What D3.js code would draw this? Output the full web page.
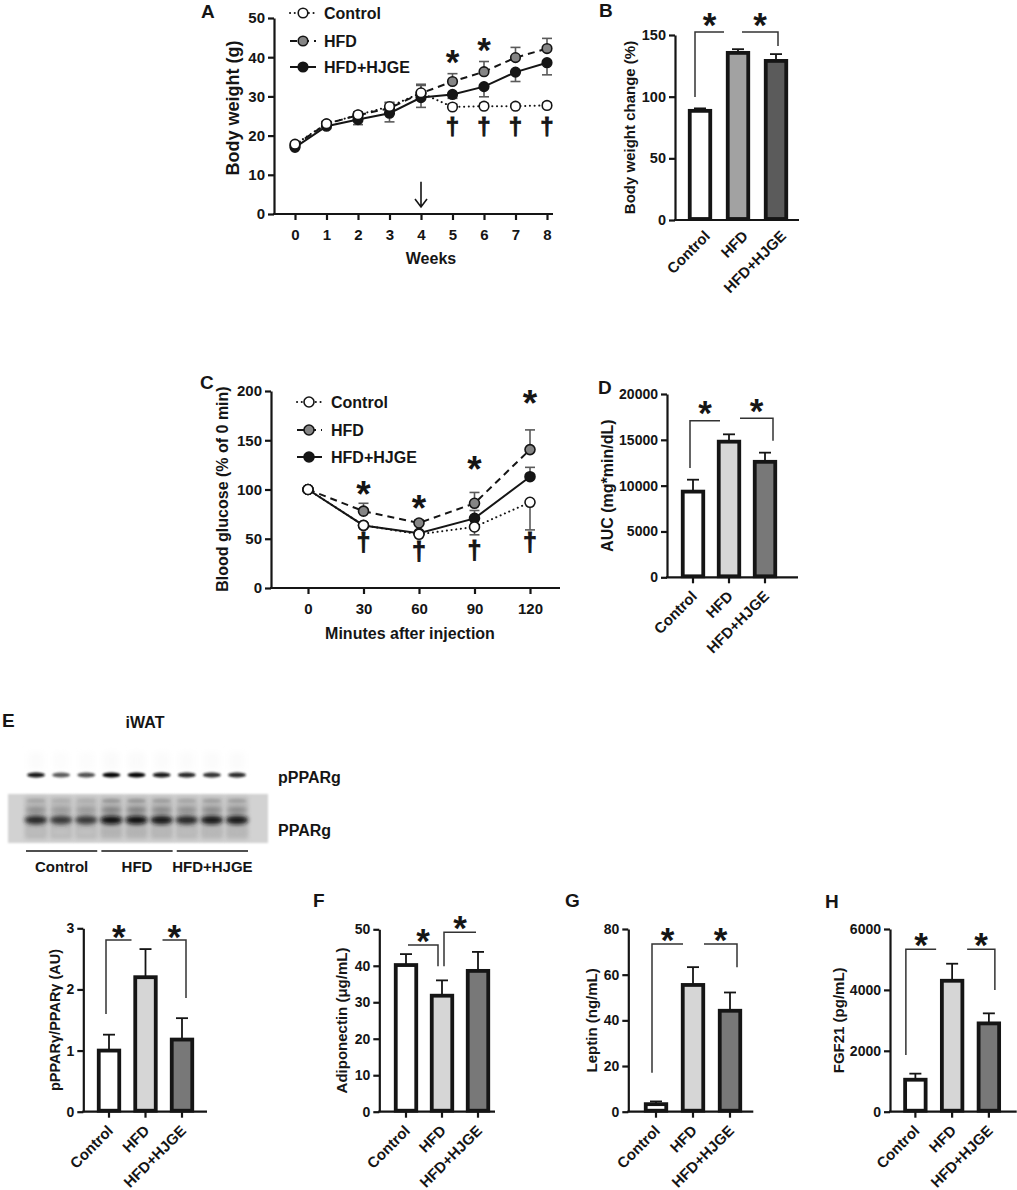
<!DOCTYPE html>
<html><head><meta charset="utf-8">
<script src="https://cdn.jsdelivr.net/npm/d3@7"></script>
<style>body{margin:0;background:#fff}</style>
</head><body><svg id="fig" width="1017" height="1190" xmlns="http://www.w3.org/2000/svg"></svg>
<script>
// ---------------- DATA ----------------
const groups = ["Control", "HFD", "HFD+HJGE"];

// Panel A – body weight (g)
const weeks = [0, 1, 2, 3, 4, 5, 6, 7, 8];
const bwControl    = [17.8, 23.0, 25.3, 27.4, 30.9, 27.3, 27.5, 27.5, 27.7];
const bwControlErr = [0.5, 0.6, 0.7, 1.1, 2.2, 0.7, 0.7, 0.6, 0.7];
const bwHFD        = [17.5, 23.0, 25.2, 27.0, 30.8, 33.8, 36.3, 39.9, 42.2];
const bwHFDErr     = [0.5, 0.6, 0.8, 1.3, 2.0, 2.0, 2.6, 2.6, 2.6];
const bwHJGE       = [17.0, 22.4, 24.1, 25.7, 29.7, 30.5, 32.5, 36.2, 38.6];
const bwHJGEErr    = [0.4, 0.6, 1.3, 2.2, 2.5, 1.0, 2.6, 2.4, 3.1];
const bwTicksY = [0, 10, 20, 30, 40, 50];
const bwStars = [[5, 40.6], [6, 43.7]];
const bwDaggers = [[5, 21.9], [6, 21.9], [7, 21.9], [8, 21.9]];

// Panel C – blood glucose (% of 0 min)
const minutes = [0, 30, 60, 90, 120];
const gluControl    = [100, 63.6, 54.5, 62.0, 87.0];
const gluControlErr = [0, 2, 2, 8, 28];
const gluHFD        = [100, 78.0, 66.0, 86.0, 140.5];
const gluHFDErr     = [0, 8, 3, 11, 20];
const gluHJGE       = [100, 63.5, 55.5, 70.7, 113.0];
const gluHJGEErr    = [0, 2, 2, 8, 9.5];
const gluTicksY = [0, 50, 100, 150, 200];
const gluStars = [[30, 103], [60, 89], [90, 129], [120, 196]];
const gluDaggers = [[30, 45.5], [60, 36], [90, 37], [120, 45]];

// Bar panels
const bwChange = [88.5, 135.5, 129.0];     const bwChangeErr = [2.0, 3.0, 5.5];
const auc = [9350, 14800, 12600];          const aucErr = [1300, 800, 1000];
const pparRatio = [1.0, 2.2, 1.18];        const pparRatioErr = [0.26, 0.46, 0.35];
const adiponectin = [40.2, 31.8, 38.6];    const adiponectinErr = [3.0, 4.2, 5.2];
const leptin = [3.3, 55.5, 44.2];          const leptinErr = [1.2, 7.8, 8.0];
const fgf21 = [1050, 4300, 2900];          const fgf21Err = [200, 560, 330];

// Western blot band intensities (9 lanes)
const pBand = [0.92, 0.6, 0.66, 1.0, 0.98, 0.92, 0.85, 0.8, 0.82];
const tBand = [0.88, 0.82, 0.82, 0.97, 0.97, 0.93, 0.88, 0.92, 0.92];

// ---------------- DRAWING ----------------
const svg = d3.select("#fig");
const INK = "#151515";
const FONT = '"Liberation Sans", Arial, Helvetica, sans-serif';

function txt(g, x, y, s, size, opts = {}) {
  const t = g.append("text").attr("x", x).attr("y", y).text(s)
    .attr("font-size", size).attr("font-weight", "bold")
    .attr("font-family", FONT).attr("fill", opts.fill || INK);
  if (opts.anchor) t.attr("text-anchor", opts.anchor);
  if (opts.rotate != null) t.attr("transform", `rotate(${opts.rotate},${x},${y})`);
  return t;
}
function yTitle(g, cx, cy, s, fs) {
  return txt(g, cx + 0.36 * fs, cy, s, fs, { anchor: "middle", rotate: -90 });
}
function styleAxis(a, fs) {
  a.selectAll("path,line").attr("stroke", INK).attr("stroke-width", 2.2);
  a.selectAll("text").attr("font-size", fs).attr("font-weight", "bold")
    .attr("font-family", FONT).attr("fill", INK);
}
function star(g, x, cy, fs) { txt(g, x, cy + 0.56 * fs, "*", fs, { anchor: "middle" }); }
function dagger(g, x, cy, fs) {
  txt(g, x, cy + 0.3 * fs, "\u2020", fs, { anchor: "middle" }).attr("stroke", INK).attr("stroke-width", 0.9);
}

function lineChart(p) {
  const g = svg.append("g");
  const x = d3.scaleLinear().domain(p.xDomain).range(p.xRange);
  const y = d3.scaleLinear().domain(p.yDomain).range(p.yRange);
  const ya = g.append("g").attr("transform", `translate(${p.axisX},0)`)
    .call(d3.axisLeft(y).tickValues(p.yTicks).tickSize(6).tickSizeOuter(0).tickPadding(3));
  const xa = g.append("g").attr("transform", `translate(0,${p.yRange[0]})`)
    .call(d3.axisBottom(x).tickValues(p.xVals).tickSize(6).tickSizeOuter(0).tickPadding(9));
  xa.select(".domain").remove();
  styleAxis(ya, p.tickFs); styleAxis(xa, p.tickFs);
  g.append("line").attr("x1", p.axisX - 1).attr("x2", p.xEnd)
    .attr("y1", p.yRange[0]).attr("y2", p.yRange[0]).attr("stroke", INK).attr("stroke-width", 2.2);

  const line = d3.line();
  p.series.forEach(s => {
    g.append("path").attr("d", line(p.xVals.map((xv, i) => [x(xv), y(s.vals[i])])))
      .attr("fill", "none").attr("stroke", INK).attr("stroke-width", 2)
      .attr("stroke-dasharray", s.dash).attr("stroke-linecap", s.cap || "butt");
  });
  p.series.forEach(s => {
    s.vals.forEach((v, i) => {
      const e = s.errs[i]; if (!e) return;
      const cx = x(p.xVals[i]), y1 = y(v), y2 = y(v + s.dir * e);
      g.append("line").attr("x1", cx).attr("x2", cx).attr("y1", y1).attr("y2", y2)
        .attr("stroke", "#5a5a5a").attr("stroke-width", 1.6);
      g.append("line").attr("x1", cx - 5).attr("x2", cx + 5).attr("y1", y2).attr("y2", y2)
        .attr("stroke", "#5a5a5a").attr("stroke-width", 1.6);
    });
  });
  p.markerOrder.forEach(k => {
    const s = p.series[k];
    s.vals.forEach((v, i) => {
      g.append("circle").attr("cx", x(p.xVals[i])).attr("cy", y(v)).attr("r", p.r)
        .attr("fill", s.fill).attr("stroke", INK).attr("stroke-width", 1.6);
    });
  });
  // legend
  p.series.forEach((s, i) => {
    const ly = p.legend.ys[i];
    g.append("line").attr("x1", p.legend.x1).attr("x2", p.legend.x2).attr("y1", ly).attr("y2", ly)
      .attr("stroke", INK).attr("stroke-width", 2).attr("stroke-dasharray", s.dash)
      .attr("stroke-linecap", s.cap || "butt");
    g.append("circle").attr("cx", p.legend.mx).attr("cy", ly).attr("r", p.r)
      .attr("fill", s.fill).attr("stroke", INK).attr("stroke-width", 1.6);
    txt(g, p.legend.tx, ly + 6, s.name, 16);
  });
  p.stars.forEach(d => star(g, x(d[0]), y(d[1]), p.starFs));
  p.daggers.forEach(d => dagger(g, x(d[0]), y(d[1]), p.daggerFs));
  txt(g, p.xTitle[0], p.xTitle[1], p.xTitle[2], 16, { anchor: "middle" });
  yTitle(g, p.yTitle[0], p.yTitle[1], p.yTitle[2], p.yTitle[3]);
  txt(g, p.letter[0], p.letter[1], p.letter[2], 19);
  return { g, x, y };
}

function barChart(p) {
  const g = svg.append("g");
  const x = d3.scalePoint().domain(groups).range(p.xRange).padding(0.5);
  const y = d3.scaleLinear().domain(p.yDomain).range([p.y0, p.yTop]);
  const ya = g.append("g").attr("transform", `translate(${p.axisX},0)`)
    .call(d3.axisLeft(y).tickValues(p.ticks).tickSize(6).tickSizeOuter(0).tickPadding(3).tickFormat(d3.format("d")));
  styleAxis(ya, p.tickFs);
  g.append("line").attr("x1", p.axisX - 1).attr("x2", p.xEnd).attr("y1", p.y0).attr("y2", p.y0)
    .attr("stroke", INK).attr("stroke-width", 2.2);
  if (p.xTicks) groups.forEach(c => g.append("line").attr("x1", x(c)).attr("x2", x(c))
    .attr("y1", p.y0).attr("y2", p.y0 + 6).attr("stroke", INK).attr("stroke-width", 2.2));
  const bw = 20.5;
  groups.forEach((c, i) => {
    const cx = x(c), v = p.vals[i], e = p.errs[i];
    g.append("line").attr("x1", cx).attr("x2", cx).attr("y1", y(v)).attr("y2", y(v + e))
      .attr("stroke", INK).attr("stroke-width", 1.8);
    g.append("line").attr("x1", cx - 6).attr("x2", cx + 6).attr("y1", y(v + e)).attr("y2", y(v + e))
      .attr("stroke", INK).attr("stroke-width", 1.8);
    g.append("rect").attr("x", cx - bw / 2).attr("y", y(v)).attr("width", bw)
      .attr("height", p.y0 - y(v) - 1).attr("fill", p.fills[i]).attr("stroke", INK).attr("stroke-width", 3.8);
  });
  p.brackets.forEach(b => {
    const xa = x(groups[b.a]) + b.dxa, xb = x(groups[b.b]) + b.dxb, yt = y(b.top);
    let d = "";
    d += (b.legA != null) ? `M${xa},${y(b.legA)}V${yt}` : `M${xa},${yt}`;
    d += `H${xb}`;
    if (b.legB != null) d += `V${y(b.legB)}`;
    g.append("path").attr("d", d).attr("fill", "none").attr("stroke", "#333").attr("stroke-width", 1.5);
    star(g, (xa + xb) / 2, yt - p.starDy, 35);
  });
  groups.forEach(c => txt(g, x(c) + p.labelDx, p.y0 + p.labelDy, c, 15, { anchor: "end", rotate: -45 }));
  yTitle(g, p.yTitle[0], (p.y0 + p.yTop) / 2 + (p.yTitle[3] || 0), p.yTitle[1], p.yTitle[2]);
  if (p.letter) txt(g, p.letter[0], p.letter[1], p.letter[2], 19);
}

// ---- Panel A
lineChart({
  xDomain: [0, 8], xRange: [295, 547], yDomain: [0, 50], yRange: [214, 18],
  axisX: 274, xEnd: 553, xVals: weeks, yTicks: bwTicksY, tickFs: 15, r: 4.8,
  series: [
    { name: "Control", vals: bwControl, errs: bwControlErr, dir: 1, fill: "#ffffff", dash: "0.1,4.6", cap: "round" },
    { name: "HFD", vals: bwHFD, errs: bwHFDErr, dir: 1, fill: "#858585", dash: "7,5" },
    { name: "HFD+HJGE", vals: bwHJGE, errs: bwHJGEErr, dir: -1, fill: "#161616", dash: null }
  ],
  markerOrder: [1, 2, 0],
  legend: { ys: [13, 41, 67], x1: 290, x2: 316, mx: 303, tx: 324 },
  stars: bwStars, daggers: bwDaggers, starFs: 35, daggerFs: 24,
  xTitle: [431, 264, "Weeks"], yTitle: [233, 108, "Body weight (g)", 18], letter: [201, 18, "A"]
});
// arrow at week 4
(function () {
  const x = d3.scaleLinear().domain([0, 8]).range([295, 547]);
  const y = d3.scaleLinear().domain([0, 50]).range([214, 18]);
  const ax = x(4), yt = y(8.2), yb = y(1.8);
  svg.append("path").attr("d", `M${ax},${yt}V${yb}M${ax - 6},${yb - 8}L${ax},${yb}L${ax + 6},${yb - 8}`)
    .attr("fill", "none").attr("stroke", INK).attr("stroke-width", 1.6);
})();

// ---- Panel C
lineChart({
  xDomain: [0, 120], xRange: [308, 530], yDomain: [0, 200], yRange: [588, 391],
  axisX: 271, xEnd: 560, xVals: minutes, yTicks: gluTicksY, tickFs: 15, r: 5,
  series: [
    { name: "Control", vals: gluControl, errs: gluControlErr, dir: -1, fill: "#ffffff", dash: "0.1,4.6", cap: "round" },
    { name: "HFD", vals: gluHFD, errs: gluHFDErr, dir: 1, fill: "#858585", dash: "7,5" },
    { name: "HFD+HJGE", vals: gluHJGE, errs: gluHJGEErr, dir: 1, fill: "#161616", dash: null }
  ],
  markerOrder: [1, 2, 0],
  legend: { ys: [402, 430, 457], x1: 297, x2: 322, mx: 309, tx: 331 },
  stars: gluStars, daggers: gluDaggers, starFs: 37, daggerFs: 25,
  xTitle: [410, 639, "Minutes after injection"], yTitle: [222, 489, "Blood glucose (% of 0 min)", 16], letter: [200, 389, "C"]
});

// ---- Bar panels
const fillsB = ["#ffffff", "#a2a2a2", "#5b5b5b"];
const fillsL = ["#ffffff", "#d6d6d6", "#787878"];

barChart({ vals: bwChange, errs: bwChangeErr, xRange: [681, 795], y0: 220, yTop: 35, yDomain: [0, 150],
  ticks: [0, 50, 100, 150], axisX: 675, xEnd: 799, fills: fillsB, xTicks: false, labelDx: 11, labelDy: 17, tickFs: 14.5,
  yTitle: [630, "Body weight change (%)", 15], letter: [599, 17, "B"], starDy: 15,
  brackets: [{ a: 0, dxa: -5, b: 1, dxb: -14, top: 152.4, legA: 99.7 },
             { a: 1, dxa: 4, b: 2, dxb: 2, top: 152.4, legB: 141 }] });

barChart({ vals: auc, errs: aucErr, xRange: [675, 783], y0: 577.3, yTop: 394, yDomain: [0, 20000],
  ticks: [0, 5000, 10000, 15000, 20000], axisX: 667, xEnd: 798, fills: fillsL, xTicks: true, labelDx: 5, labelDy: 20, tickFs: 14,
  yTitle: [607, "AUC (mg*min/dL)", 16], letter: [598, 394, "D"], starDy: 15,
  brackets: [{ a: 0, dxa: -3, b: 1, dxb: -9, top: 17083, legA: 11923 },
             { a: 1, dxa: 11, b: 2, dxb: 8, top: 17345, legB: 14900 }] });

barChart({ vals: pparRatio, errs: pparRatioErr, xRange: [90.75, 200.25], y0: 1111.7, yTop: 928.3, yDomain: [0, 3],
  ticks: [0, 1, 2, 3], axisX: 83.3, xEnd: 207, fills: fillsL, xTicks: true, labelDx: 5, labelDy: 20, tickFs: 14,
  yTitle: [55, "pPPAR\u03B3/PPAR\u03B3 (AU)", 14.5], letter: null, starDy: 11,
  brackets: [{ a: 0, dxa: -3, b: 1, dxb: -14, top: 2.81, legA: 1.6 },
             { a: 1, dxa: 17, b: 2, dxb: 4, top: 2.81, legB: 1.86 }] });

barChart({ vals: adiponectin, errs: adiponectinErr, xRange: [388, 496], y0: 1111.7, yTop: 929.3, yDomain: [0, 50],
  ticks: [0, 10, 20, 30, 40, 50], axisX: 379.3, xEnd: 495, fills: fillsL, xTicks: true, labelDx: 5, labelDy: 20, tickFs: 14,
  yTitle: [342, "Adiponectin (\u03BCg/mL)", 15], letter: [313, 907, "F"], starDy: 12,
  brackets: [{ a: 0, dxa: 2, b: 1, dxb: -4, top: 45.7, legB: 39.9 },
             { a: 1, dxa: 2, b: 2, dxb: -2, top: 49.2, legA: 39.9 }] });

barChart({ vals: leptin, errs: leptinErr, xRange: [637.5, 748.5], y0: 1111.7, yTop: 929, yDomain: [0, 80],
  ticks: [0, 20, 40, 60, 80], axisX: 628.3, xEnd: 753.3, fills: fillsL, xTicks: true, labelDx: 5, labelDy: 20, tickFs: 14,
  yTitle: [592, "Leptin (ng/mL)", 15], letter: [565, 907, "G"], starDy: 12,
  brackets: [{ a: 0, dxa: -4, b: 1, dxb: -10, top: 73.4, legA: 17.1 },
             { a: 1, dxa: 11, b: 2, dxb: 7, top: 73.4, legB: 63.2 }] });

barChart({ vals: fgf21, errs: fgf21Err, xRange: [897, 1007.25], y0: 1111.7, yTop: 929, yDomain: [0, 6000],
  ticks: [0, 2000, 4000, 6000], axisX: 890, xEnd: 1016.7, fills: fillsL, xTicks: true, labelDx: 5, labelDy: 20, tickFs: 14,
  yTitle: [839, "FGF21 (pg/mL)", 15], letter: [825, 908, "H"], starDy: 12,
  brackets: [{ a: 0, dxa: -9.5, b: 1, dxb: -16, top: 5333, legA: 1862 },
             { a: 1, dxa: 15, b: 2, dxb: 6, top: 5333, legB: 3997 }] });

// ---- Panel E: western blot
(function () {
  const defs = svg.append("defs");
  [["blur1", 1.0], ["blur2", 2.0], ["blur3", 3.5]].forEach(([id, s]) => {
    defs.append("filter").attr("id", id).attr("x", "-50%").attr("y", "-50%").attr("width", "200%").attr("height", "200%")
      .append("feGaussianBlur").attr("stdDeviation", s);
  });
  const g = svg.append("g");
  const lx = d3.scalePoint().domain(d3.range(pBand.length)).range([36, 237]);
  txt(g, 2, 727, "E", 19);
  txt(g, 145, 728, "iWAT", 16, { anchor: "middle" });
  // very faint haze above phospho bands
  pBand.forEach((v, i) => g.append("rect").attr("x", lx(i) - 8).attr("y", 752).attr("width", 16).attr("height", 18)
    .attr("fill", d3.interpolateGreys(0.04 * v)).attr("filter", "url(#blur3)"));
  pBand.forEach((v, i) => g.append("ellipse").attr("cx", lx(i)).attr("cy", 775).attr("rx", 9).attr("ry", 2.6)
    .attr("fill", d3.interpolateGreys(0.55 + 0.45 * v)).attr("opacity", 0.55 + 0.45 * v).attr("filter", "url(#blur1)"));
  // total PPARg membrane
  g.append("rect").attr("x", 8).attr("y", 794).attr("width", 260).attr("height", 49)
    .attr("fill", "#d2d2d2").attr("filter", "url(#blur1)");
  tBand.forEach((v, i) => {
    const cx = lx(i);
    g.append("rect").attr("x", cx - 11).attr("y", 797).attr("width", 22).attr("height", 42)
      .attr("fill", d3.interpolateGreys(0.3 + 0.1 * v)).attr("filter", "url(#blur2)");
    g.append("ellipse").attr("cx", cx).attr("cy", 801).attr("rx", 9).attr("ry", 2.2)
      .attr("fill", d3.interpolateGreys(0.5 * v)).attr("filter", "url(#blur1)");
    g.append("ellipse").attr("cx", cx).attr("cy", 810).attr("rx", 10).attr("ry", 3)
      .attr("fill", d3.interpolateGreys(0.6 * v)).attr("filter", "url(#blur2)");
    g.append("ellipse").attr("cx", cx).attr("cy", 820).attr("rx", 11.5).attr("ry", 4.2)
      .attr("fill", d3.interpolateGreys(v)).attr("filter", "url(#blur2)");
    g.append("ellipse").attr("cx", cx).attr("cy", 832).attr("rx", 10).attr("ry", 2.5)
      .attr("fill", d3.interpolateGreys(0.42 * v)).attr("filter", "url(#blur2)");
  });
  txt(g, 278, 783, "pPPARg", 16);
  txt(g, 278, 836, "PPARg", 16);
  const segs = [[0, 2], [3, 5], [6, 8]];
  segs.forEach((s, k) => {
    const x1 = lx(s[0]) - 10, x2 = lx(s[1]) + 11;
    g.append("line").attr("x1", x1).attr("x2", x2).attr("y1", 851).attr("y2", 851)
      .attr("stroke", INK).attr("stroke-width", 1.5);
    txt(g, (x1 + x2) / 2, 872, groups[k], 15, { anchor: "middle" });
  });
})();
</script></body></html>
